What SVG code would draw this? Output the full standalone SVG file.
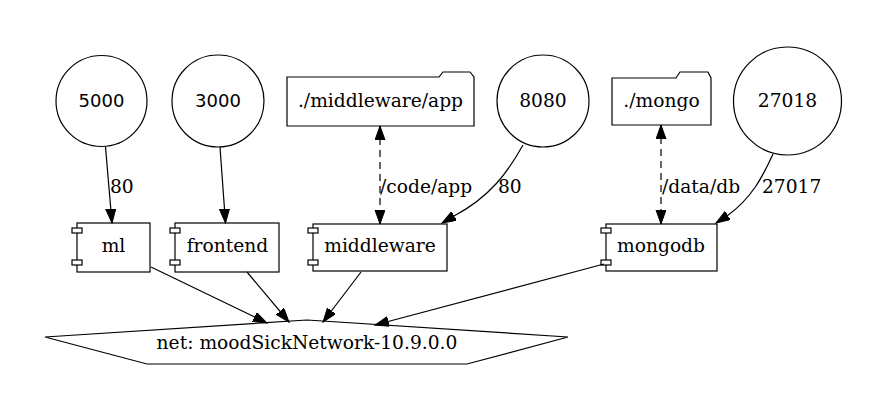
<svg xmlns="http://www.w3.org/2000/svg" width="890" height="417" viewBox="0 0 890 417">
<style>
.sh{fill:#fff;stroke:#000;stroke-width:1.2}
.t{font-family:"DejaVu Serif",serif;font-size:18.67px;fill:#000}
.s{font-family:"DejaVu Sans",sans-serif;font-size:18px;fill:#000}
.m{text-anchor:middle}
.e{fill:none;stroke:#000;stroke-width:1.2}
.d{stroke-dasharray:7,5}
</style>
<defs>
<marker id="a" markerUnits="userSpaceOnUse" markerWidth="16" markerHeight="12" refX="14" refY="5" orient="auto-start-reverse">
<path d="M0,0 L14,5 L0,10 Z" fill="#000" stroke="#000" stroke-width="1"/>
</marker>
</defs>
<rect width="890" height="417" fill="#fff"/>
<g id="p5000"><circle class="sh" cx="101.5" cy="101" r="45.5"/><text class="s m" x="101.5" y="107">5000</text></g>
<g id="p3000"><circle class="sh" cx="218" cy="101" r="46"/><text class="s m" x="218" y="107">3000</text></g>
<g id="vapp"><path class="sh" d="M287,77 L439,77 L443,72 L470,72 L474,77 L474,126 L287,126 Z"/><text class="t m" x="380.5" y="107">./middleware/app</text></g>
<g id="p8080"><circle class="sh" cx="543" cy="101" r="46"/><text class="t m" x="543" y="107">8080</text></g>
<g id="vmongo"><path class="sh" d="M612,78 L676,78 L680,72 L708,72 L711,78 L711,125 L612,125 Z"/><text class="t m" x="661.5" y="107">./mongo</text></g>
<g id="p27018"><circle class="sh" cx="787.5" cy="101" r="54"/><text class="t m" x="787.5" y="107">27018</text></g>
<g id="ml"><rect class="sh" x="77" y="223" width="73" height="49"/><rect class="sh" x="72" y="228" width="10" height="5"/><rect class="sh" x="72" y="260" width="10" height="5"/><text class="t m" x="113.5" y="252">ml</text></g>
<g id="frontend"><rect class="sh" x="175" y="223" width="104" height="49"/><rect class="sh" x="170" y="228" width="10" height="5"/><rect class="sh" x="170" y="260" width="10" height="5"/><text class="t m" x="227.5" y="252">frontend</text></g>
<g id="middleware"><rect class="sh" x="313" y="224" width="134" height="47"/><rect class="sh" x="308" y="228" width="10" height="5"/><rect class="sh" x="308" y="260" width="10" height="5"/><text class="t m" x="380" y="252">middleware</text></g>
<g id="mongodb"><rect class="sh" x="606" y="224" width="111" height="47"/><rect class="sh" x="601" y="228" width="10" height="5"/><rect class="sh" x="601" y="260" width="10" height="5"/><text class="t m" x="661" y="252">mongodb</text></g>
<g id="net"><path class="sh" d="M307,320 L568,337 L467,364 L147,364 L45,337 Z"/><text class="t m" x="307" y="349">net: moodSickNetwork-10.9.0.0</text></g>
<g id="edges">
<path class="e" d="M105.5,147 L112,223" marker-end="url(#a)"/>
<text class="t" x="110" y="193">80</text>
<path class="e" d="M220,147 L225.5,223" marker-end="url(#a)"/>
<path class="e d" d="M380,126 L380,224" marker-start="url(#a)" marker-end="url(#a)"/>
<text class="t" x="380" y="193">/code/app</text>
<path class="e" d="M523,145 C508,172 490,197 454,216 L442,223" marker-end="url(#a)"/>
<text class="t" x="498" y="193">80</text>
<path class="e d" d="M661,125 L661,224" marker-start="url(#a)" marker-end="url(#a)"/>
<text class="t" x="662" y="193">/data/db</text>
<path class="e" d="M773,154 C763,176 752,198 727,216 L716,223" marker-end="url(#a)"/>
<text class="t" x="762" y="193">27017</text>
<path class="e" d="M151,267 L267,323" marker-end="url(#a)"/>
<path class="e" d="M247,272 L289,322" marker-end="url(#a)"/>
<path class="e" d="M361,272 L323,322" marker-end="url(#a)"/>
<path class="e" d="M604,264 L375,325" marker-end="url(#a)"/>
</g>
</svg>
